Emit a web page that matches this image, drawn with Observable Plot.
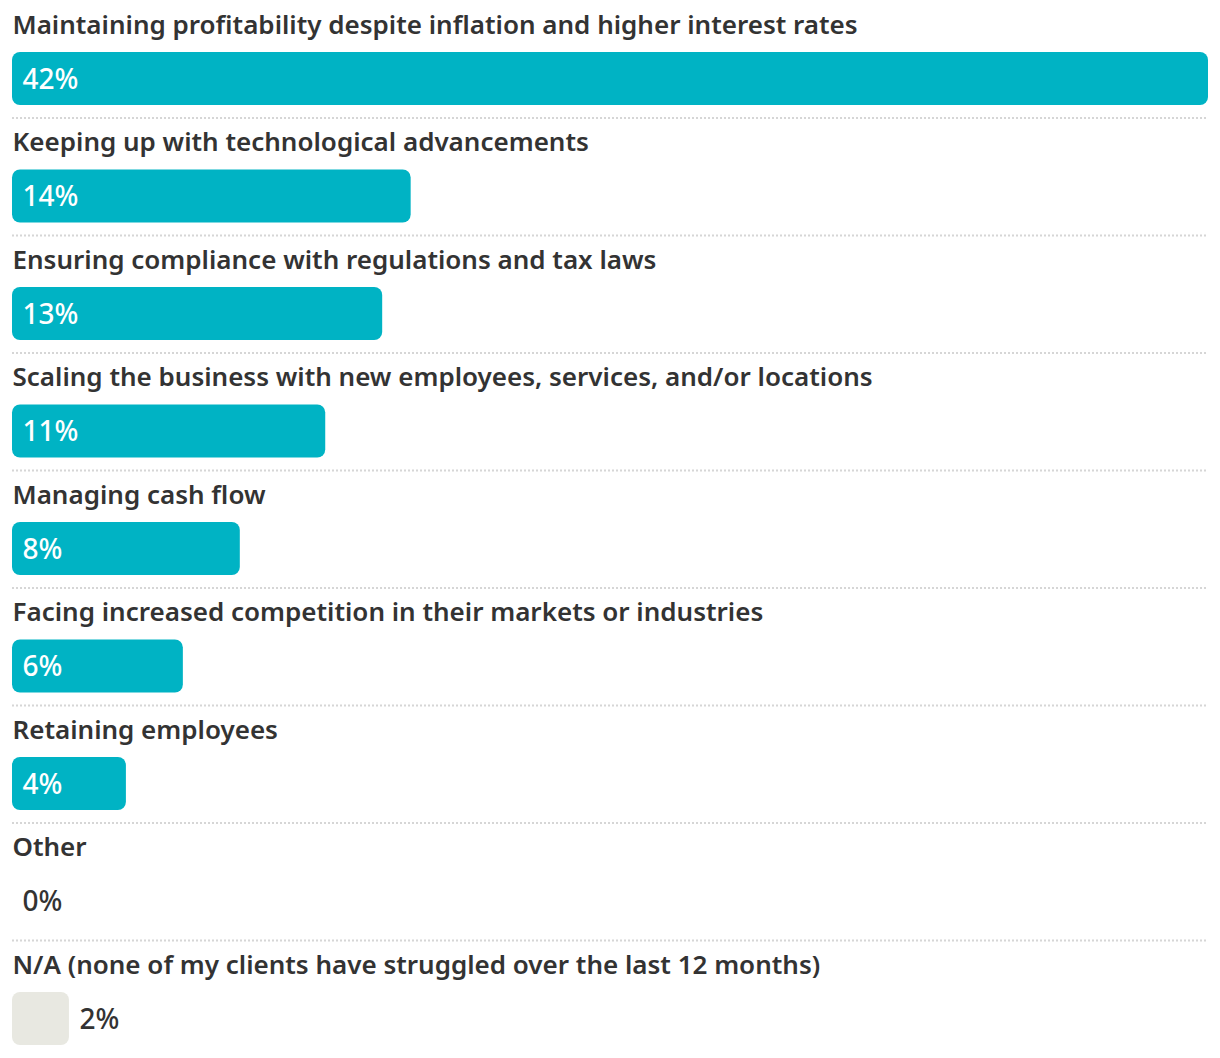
<!DOCTYPE html>
<html>
<head>
<meta charset="utf-8">
<script src="https://cdn.jsdelivr.net/npm/d3@7"></script>
<script src="https://cdn.jsdelivr.net/npm/@observablehq/plot@0.6"></script>
<style>
  html, body { margin: 0; padding: 0; background: #fff; }
  #chart svg { display: block; }
</style>
</head>
<body>
<div id="chart"></div>
<script>
const categories = [
  "Maintaining profitability despite inflation and higher interest rates",
  "Keeping up with technological advancements",
  "Ensuring compliance with regulations and tax laws",
  "Scaling the business with new employees, services, and/or locations",
  "Managing cash flow",
  "Facing increased competition in their markets or industries",
  "Retaining employees",
  "Other",
  "N/A (none of my clients have struggled over the last 12 months)"
];
const values = [42, 14, 13, 11, 8, 6, 4, 0, 2];
const groups = ["answer", "answer", "answer", "answer", "answer", "answer", "answer", "answer", "none"];

const data = categories.map((c, i) => ({category: c, value: values[i], group: groups[i]}));
const inside = data.filter(d => d.group === "answer" && d.value > 0);
const outside = data.filter(d => !(d.group === "answer" && d.value > 0));
const separated = data.slice(0, data.length - 1);

const W = 1220, H = 1058;
const rangeBottom = 1057.5;
const band = rangeBottom / categories.length;
const half = band / 2;
const font = "'Noto Sans', sans-serif";
const fsLabel = 26;
const fsValue = 28;
// Plot's lineAnchor "middle" puts the baseline 0.32em below the anchor
const base = (baseline, fs) => baseline - 0.32 * fs - half;

const chart = Plot.plot({
  width: W,
  height: H,
  marginLeft: 12,
  marginRight: 12,
  marginTop: 0,
  marginBottom: 0,
  style: {fontFamily: font, background: "#fff"},
  x: {domain: [0, 42], axis: null},
  y: {type: "band", domain: categories, range: [0, rangeBottom], padding: 0, round: false, axis: null},
  color: {domain: ["answer", "none"], range: ["#00b3c4", "#e8e8e1"]},
  marks: [
    Plot.ruleY(separated, {
      y: "category", dy: half,
      stroke: "#d6d6d6", strokeWidth: 2, strokeDasharray: "2,2"
    }),
    Plot.barX(data, {
      x: "value", y: "category", fill: "group",
      insetTop: 52, insetBottom: band - 105, rx: 8
    }),
    Plot.text(data, {
      x: 0, y: "category", text: "category",
      textAnchor: "start", lineAnchor: "middle", dy: base(33, fsLabel),
      fill: "#333", fontSize: fsLabel, fontWeight: 600
    }),
    Plot.text(inside, {
      x: 0, y: "category", text: d => d.value + "%",
      textAnchor: "start", lineAnchor: "middle", dx: 10, dy: base(88, fsValue),
      fill: "#fff", fontSize: fsValue, fontWeight: 500
    }),
    Plot.text(outside, {
      x: "value", y: "category", text: d => d.value + "%",
      textAnchor: "start", lineAnchor: "middle", dx: 10, dy: base(88, fsValue),
      fill: "#333", fontSize: fsValue, fontWeight: 500
    })
  ]
});
document.getElementById("chart").appendChild(chart);
</script>
</body>
</html>
